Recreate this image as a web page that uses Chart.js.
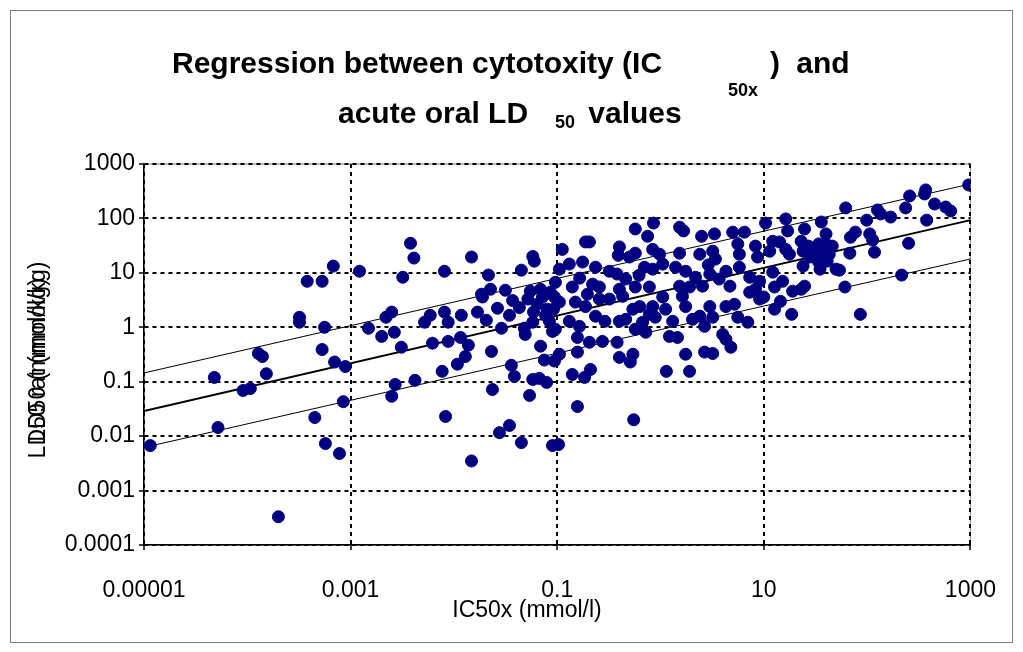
<!DOCTYPE html>
<html><head><meta charset="utf-8">
<script src="https://cdn.jsdelivr.net/npm/chart.js@4.4.1/dist/chart.umd.min.js"></script>
<style>html,body{margin:0;padding:0;background:#fff;}#wrap{width:1023px;height:652px;}</style>
</head><body><div id="wrap"><canvas id="c" width="1023" height="652"></canvas></div>
<script>
// IC50x (mmol/l) values of each compound
const ic50x = [
 1.15e-5,4.8e-5,5.2e-5,9.1e-5,1.07e-4,1.28e-4,1.40e-4,1.53e-4,2.0e-4,3.2e-4,3.2e-4,3.8e-4,5.3e-4,6.8e-4,4.5e-4,5.6e-4,5.3e-4,7.0e-4,8.9e-4,8.5e-4,5.7e-4,7.8e-4,
 1.22e-3,3.8e-3,4.1e-3,3.2e-3,8.1e-3,0.0148,0.0216,0.045,0.058,0.060,0.112,0.105,0.096,0.0226,0.0315,0.0185,0.055,0.069,0.086,0.0189,0.037,
 2.5e-3,2.2e-3,1.49e-3,2.0e-3,2.65e-3,5.9e-3,5.2e-3,8.1e-3,8.8e-3,0.0118,0.0169,0.0206,0.0264,0.0345,0.0289,0.048,0.049,0.058,0.09,
 3.1e-3,6.2e-3,8.8e-3,0.0116,0.0138,0.0129,0.0108,0.0231,0.069,0.075,0.094,7.7e-3,0.036,0.0385,0.058,0.067,0.079,2.7e-3,4.2e-3,2.5e-3,0.0236,0.054,
 8.3e-3,0.0148,0.0276,0.0345,0.045,0.09,0.103,0.052,0.064,0.080,0.077,0.094,0.072,0.092,0.059,0.043,0.084,
 0.855,0.57,0.75,1.53,1.67,2.5,3.33,5.0,6.5,0.188,0.205,0.40,0.39,0.57,0.50,0.84,0.98,1.53,2.4,3.2,3.4,5.6,5.8,8.3,8.7,
 0.131,0.176,0.235,0.32,0.38,0.46,0.70,0.84,1.05,1.40,1.75,2.18,3.0,3.7,4.3,5.8,7.3,9.1,
 0.22,0.256,0.40,0.57,0.78,1.53,1.91,2.55,4.7,8.3,9.1,7.3,4.3,5.2,3.0,1.75,1.63,1.05,0.84,0.43,0.63,0.256,0.188,0.15,0.105,
 0.235,0.29,0.40,0.46,0.131,0.164,0.096,0.67,0.78,0.89,0.54,0.205,0.157,0.274,0.38,0.72,0.57,7.0,2.67,2.4,1.31,1.22,1.46,4.0,4.3,4.8,
 0.105,0.157,0.14,0.184,0.21,0.40,0.51,0.54,1.14,1.75,1.91,2.67,3.2,0.157,0.55,
 962,369,360,258,236,450,576,644,377,62,126,135,169,99,10.4,16.3,17,24.8,36,40,77,69,106,113,118,252,68,
 12.2,14.2,16.3,11.4,23,27,34,40,46,24,30,37,43,28,34,41,24,35,50,54,12.2,12.7,15.2,19,24.8,61,216,17.7,12.7,14.5,18.6,86,10,23,
 0.14,0.32,0.196,1.12,3.2,2.04,5.6,0.62,0.165,2.9
];
// acute oral LD50 (mmol/kg) values, same order
const ld50 = [
 0.0067,0.12,0.0144,0.069,0.075,0.33,0.29,0.14,0.00033,1.53,1.24,7.0,7.0,13.3,0.022,1.0,0.39,0.23,0.19,0.043,0.0073,0.0048,
 10.7,35,18.7,8.3,10.7,19.5,9.1,11.2,20,16.4,27,11.7,6.7,5.0,4.8,4.05,4.6,5.0,4.4,3.6,3.1,
 1.9,1.53,0.96,0.68,0.81,1.66,1.24,1.9,1.24,1.66,1.9,1.35,2.24,1.66,0.96,0.96,0.74,1.24,0.84,
 0.43,0.51,0.55,0.65,0.47,0.29,0.21,0.36,0.45,0.25,0.24,0.155,0.20,0.125,0.11,0.115,0.097,0.089,0.106,0.054,0.072,0.056,
 0.023,0.0035,0.0116,0.0157,0.0076,0.0067,0.007,3.3,2.65,2.15,1.66,3.6,3.6,2.15,1.9,2.3,1.29,
 82,64,47,69,59,47,52,56,56,37,37,30,21,23,19.5,27,22,23,22,25,17.9,34,22,31,19.5,
 14.5,15.8,12.7,10.7,9.5,7.7,12.7,11.7,14.5,12.7,10.7,8.3,9.5,7.7,10.7,12.7,8.3,7.0,
 6.2,5.5,5.0,5.5,5.5,5.7,5.5,5.7,5.7,5.0,3.3,4.4,2.4,2.65,2.4,2.4,3.7,3.6,2.4,3.7,2.4,3.3,2.4,2.9,2.9,
 1.6,1.29,1.29,1.4,1.29,1.04,0.92,1.24,1.73,1.53,2.15,0.53,0.65,0.55,0.53,0.81,0.92,1.24,1.04,1.6,1.29,0.68,0.65,0.74,0.60,0.43,
 0.32,0.35,0.136,0.12,0.168,0.28,0.23,0.32,0.155,0.32,0.155,0.35,0.33,0.035,0.020,
 413,334,282,259,156,184,162,137,93,156,143,121,106,93,82,98,59,64,86,52,56,45,52,40,24,35,23,
 38,37,27,25,38,31,34,34,31,25,24,22,22,19.5,15.8,16.4,13.3,11.7,11.7,11.2,10.3,5.5,7.0,4.6,5.7,5.5,9.1,22,2.15,3.0,1.73,1.73,3.6,5.0,
 5.5,3.3,4.05,2.15,1.53,1.4,1.53,9.0,8.0,14
];
// regression line and its two bands, read at the axis ends
const lineX = [0.00001, 1000];
const lineMid = [0.029, 93];
const lineUpper = [0.145, 430];
const lineLower = [0.0062, 18];
// axis ticks
const xTicks = [0.00001, 0.001, 0.1, 10, 1000];
const xTickLabels = ['0.00001', '0.001', '0.1', '10', '1000'];
const yTicks = [0.0001, 0.001, 0.01, 0.1, 1, 10, 100, 1000];
const yTickLabels = ['0.0001', '0.001', '0.01', '0.1', '1', '10', '100', '1000'];
// texts
const titleMain1 = 'Regression between cytotoxity (IC';
const titleSub1 = '50x';
const titleEnd1 = ') and';
const titleMain2 = 'acute oral LD';
const titleSub2 = '50';
const titleEnd2 = ' values';
const xAxisTitle = 'IC50x (mmol/l)';
const yAxisTitles = ['LD50 (mmol/kg)', 'LD50 rat (mmol/kg)'];

const FONT = '"Liberation Sans", Arial, sans-serif';
const pts = ic50x.map((v, i) => ({x: v, y: ld50[i]}));
const mk = arr => lineX.map((v, i) => ({x: v, y: arr[i]}));

const decor = {
  id: 'decor',
  beforeDraw(chart) {
    const ctx = chart.ctx, a = chart.chartArea;
    ctx.save();
    ctx.fillStyle = '#fff';
    ctx.fillRect(0, 0, chart.width, chart.height);
    ctx.strokeStyle = '#808080';
    ctx.lineWidth = 1;
    ctx.strokeRect(10.5, 10.5, 1002, 632);
    ctx.strokeRect(a.left, a.top, a.right - a.left, a.bottom - a.top);
    ctx.restore();
  },
  afterDraw(chart) {
    const ctx = chart.ctx;
    ctx.save();
    ctx.fillStyle = '#000';
    ctx.textAlign = 'left';
    ctx.textBaseline = 'alphabetic';
    ctx.font = 'bold 30px ' + FONT;
    ctx.fillText(titleMain1, 172, 73);
    ctx.fillText(titleMain2, 338, 123);
    ctx.fillText(titleEnd2, 580, 123);
    if ('wordSpacing' in ctx) ctx.wordSpacing = '8px';
    ctx.fillText(titleEnd1, 770, 73);
    if ('wordSpacing' in ctx) ctx.wordSpacing = '0px';
    ctx.font = 'bold 18px ' + FONT;
    ctx.fillText(titleSub1, 728, 96);
    ctx.fillText(titleSub2, 555, 128);
    ctx.font = '23px ' + FONT;
    ctx.textAlign = 'center';
    ctx.fillText(xAxisTitle, 527, 617);
    ctx.translate(45, 360);
    ctx.rotate(-Math.PI / 2);
    yAxisTitles.forEach(t => ctx.fillText(t, 0, 0));
    ctx.restore();
  }
};

new Chart(document.getElementById('c'), {
  type: 'scatter',
  data: {
    datasets: [
      {data: pts, backgroundColor: '#000080', borderColor: '#000080', borderWidth: 1, pointRadius: 6, order: 0},
      {data: mk(lineMid), showLine: true, borderColor: '#000', borderWidth: 2, pointRadius: 0, fill: false, order: 1},
      {data: mk(lineUpper), showLine: true, borderColor: '#000', borderWidth: 1, pointRadius: 0, fill: false, order: 1},
      {data: mk(lineLower), showLine: true, borderColor: '#000', borderWidth: 1, pointRadius: 0, fill: false, order: 1}
    ]
  },
  options: {
    responsive: false,
    devicePixelRatio: 1,
    animation: false,
    events: [],
    layout: {padding: {top: 164, right: 49, left: 0, bottom: 0}},
    plugins: {legend: {display: false}, tooltip: {enabled: false}, title: {display: false}},
    scales: {
      x: {
        type: 'logarithmic', min: 0.00001, max: 1000,
        afterBuildTicks: s => { s.ticks = xTicks.map(v => ({value: v})); },
        afterFit: s => { s.height = 107; },
        ticks: {autoSkip: false, maxRotation: 0, color: '#000', padding: 27, font: {family: FONT, size: 23},
          callback: v => { const i = xTicks.findIndex(t => Math.abs(Math.log10(t) - Math.log10(v)) < 1e-6); return i >= 0 ? xTickLabels[i] : ''; }},
        grid: {color: '#000', lineWidth: 2, tickLength: 5, tickColor: '#000', tickWidth: 1.5},
        border: {display: true, color: '#000', width: 1.5, dash: [4, 4]}
      },
      y: {
        type: 'logarithmic', min: 0.0001, max: 1000,
        afterBuildTicks: s => { s.ticks = yTicks.map(v => ({value: v})); },
        afterFit: s => { s.width = 144; },
        ticks: {autoSkip: false, color: '#000', padding: 4, font: {family: FONT, size: 23},
          callback: v => { const i = yTicks.findIndex(t => Math.abs(Math.log10(t) - Math.log10(v)) < 1e-6); return i >= 0 ? yTickLabels[i] : ''; }},
        grid: {color: '#000', lineWidth: 2, tickLength: 5, tickColor: '#000', tickWidth: 1.5},
        border: {display: true, color: '#000', width: 1.5, dash: [4, 4]}
      }
    }
  },
  plugins: [decor]
});
</script>
</body></html>
